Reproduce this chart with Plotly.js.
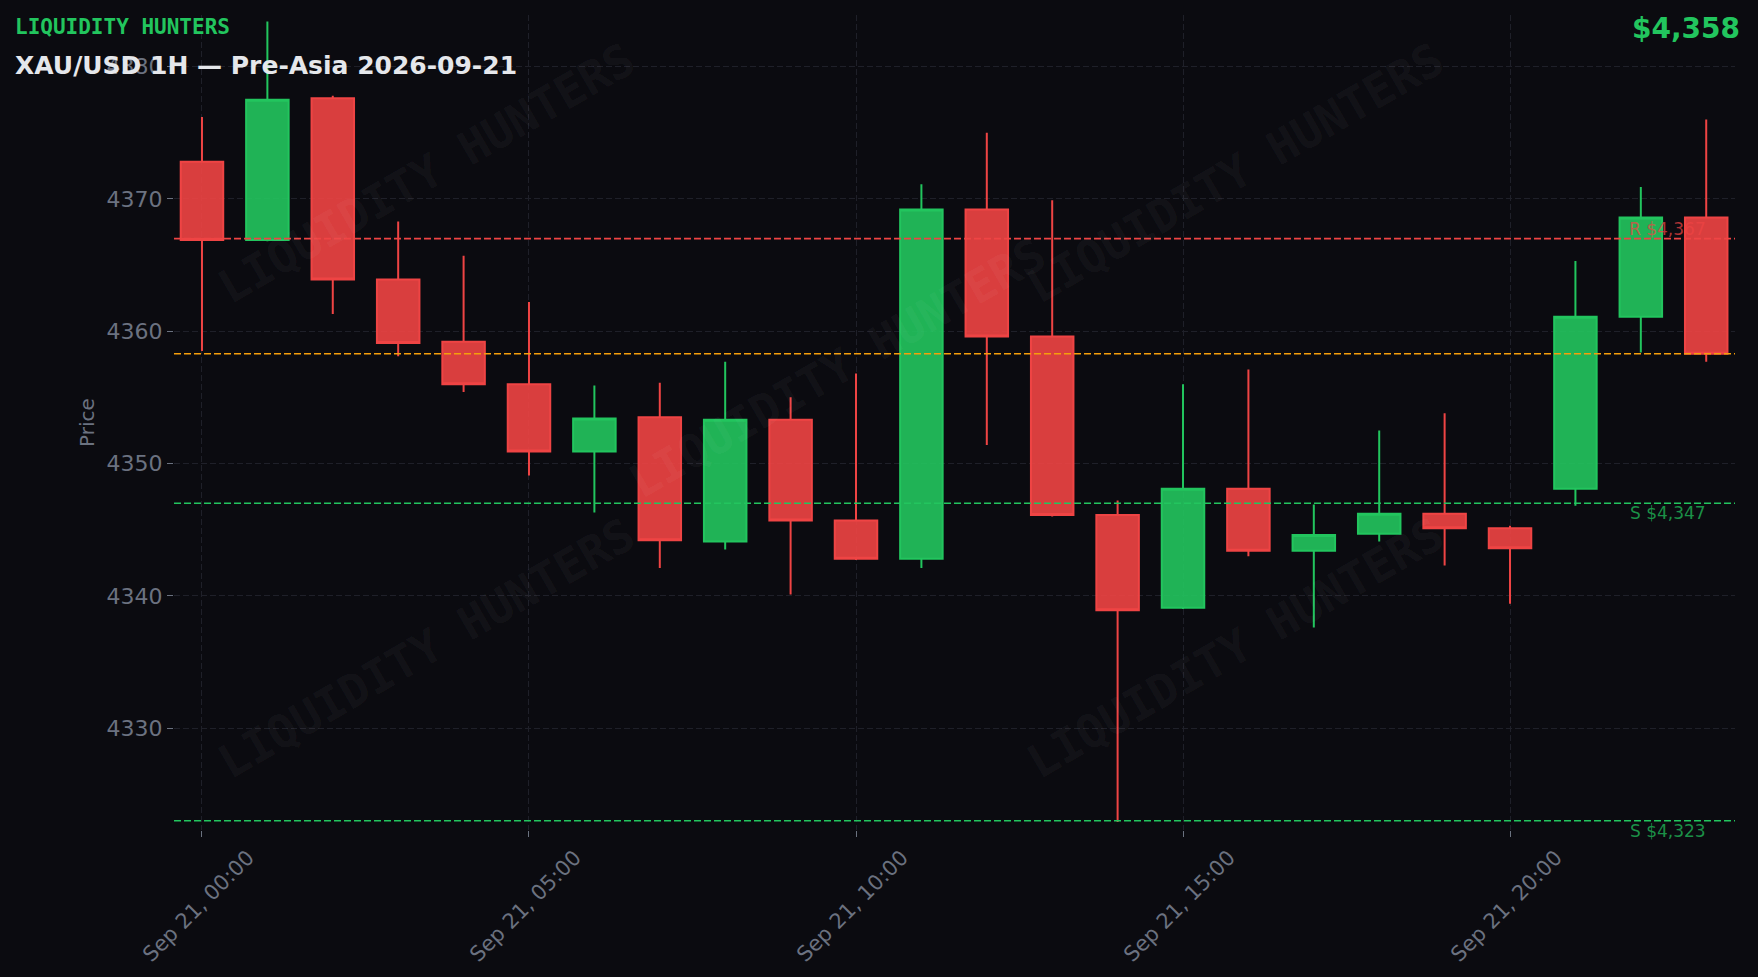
<!DOCTYPE html>
<html><head><meta charset="utf-8">
<script src="https://cdn.plot.ly/plotly-3.0.1.min.js"></script>
<style>html,body{margin:0;padding:0;background:#0b0b10;}#chart{width:1758px;height:977px;}</style>
</head><body><div id="chart"></div>
<script>
const times = ['2026-09-21 00:00','2026-09-21 01:00','2026-09-21 02:00','2026-09-21 03:00','2026-09-21 04:00','2026-09-21 05:00',
  '2026-09-21 06:00','2026-09-21 07:00','2026-09-21 08:00','2026-09-21 09:00','2026-09-21 10:00','2026-09-21 11:00',
  '2026-09-21 12:00','2026-09-21 13:00','2026-09-21 14:00','2026-09-21 15:00','2026-09-21 16:00','2026-09-21 17:00',
  '2026-09-21 18:00','2026-09-21 19:00','2026-09-21 20:00','2026-09-21 21:00','2026-09-21 22:00','2026-09-21 23:00'];
const openP  = [4372.8,4366.9,4377.6,4363.9,4359.2,4356.0,4350.9,4353.5,4344.1,4353.3,4345.7,4342.8,4369.2,4359.6,4346.1,4339.1,4348.1,4343.4,4344.7,4346.2,4345.1,4348.1,4361.1,4368.6];
const highP  = [4376.2,4383.4,4377.8,4368.3,4365.7,4362.2,4355.9,4356.1,4357.7,4355.0,4356.8,4371.1,4375.0,4369.9,4347.2,4356.0,4357.1,4346.9,4352.5,4353.8,4345.3,4365.3,4370.9,4376.0];
const lowP   = [4358.5,4366.8,4361.3,4358.1,4355.4,4349.1,4346.3,4342.1,4343.5,4340.1,4342.7,4342.1,4351.4,4346.0,4322.9,4339.0,4343.0,4337.6,4344.1,4342.3,4339.4,4346.8,4358.4,4357.7];
const closeP = [4366.9,4377.5,4363.9,4359.1,4356.0,4350.9,4353.4,4344.2,4353.3,4345.7,4342.8,4369.2,4359.6,4346.1,4338.9,4348.1,4343.4,4344.6,4346.2,4345.1,4343.6,4361.1,4368.6,4358.3];

const levelValues = [4367, 4358.3, 4347, 4323];
const levelLabels = ['R $4,367', '', 'S $4,347', 'S $4,323'];
const levelKinds  = ['R', 'P', 'S', 'S'];

const brandText = 'LIQUIDITY HUNTERS';
const chartTitle = 'XAU/USD 1H — Pre-Asia 2026-09-21';
const priceText = '$4,358';

const GREEN = '#22c55e', RED = '#ef4444', ORANGE = '#f59e0b';
const kindColor = {R: RED, P: ORANGE, S: GREEN};
const kindLabelColor = {R: 'rgba(239,68,68,0.72)', P: 'rgba(245,158,11,0.72)', S: 'rgba(34,197,94,0.72)'};

const trace = {
  type: 'candlestick', x: times, open: openP, high: highP, low: lowP, close: closeP,
  increasing: {line: {color: GREEN, width: 2}, fillcolor: 'rgba(34,197,94,0.9)'},
  decreasing: {line: {color: RED, width: 2}, fillcolor: 'rgba(239,68,68,0.9)'},
  whiskerwidth: 0, showlegend: false, hoverinfo: 'skip'
};

const shapes = levelValues.map((v, i) => ({
  type: 'line', xref: 'paper', x0: 0, x1: 1, yref: 'y', y0: v, y1: v,
  line: {color: kindColor[levelKinds[i]], width: 1.6, dash: '7px,3px'}, layer: 'above'
}));

const annotations = [];
levelValues.forEach((v, i) => {
  if (!levelLabels[i]) return;
  annotations.push({xref: 'paper', yref: 'y', x: 0.983, y: v, xanchor: 'right',
    yanchor: levelKinds[i] === 'R' ? 'bottom' : 'top', yshift: levelKinds[i] === 'R' ? -2 : 2,
    text: levelLabels[i], showarrow: false,
    font: {family: 'DejaVu Sans', size: 17, color: kindLabelColor[levelKinds[i]]}});
});
const wmPos = [[0.162, 0.806], [0.680, 0.806], [0.425, 0.567], [0.162, 0.223], [0.680, 0.223]];
wmPos.forEach(p => annotations.push({xref: 'paper', yref: 'paper', x: p[0], y: p[1], xanchor: 'center', yanchor: 'middle',
  text: '<b>' + brandText + '</b>', showarrow: false, textangle: -30,
  font: {family: 'DejaVu Sans Mono', size: 46, color: 'rgba(255,255,255,0.05)'}}));
annotations.push({xref: 'paper', yref: 'paper', x: -0.1032, y: 0.985, xanchor: 'left', yanchor: 'middle',
  text: '<b>' + brandText + '</b>', showarrow: false, font: {family: 'DejaVu Sans Mono', size: 21, color: GREEN}});
annotations.push({xref: 'paper', yref: 'paper', x: 1.0045, y: 0.984, xanchor: 'right', yanchor: 'middle',
  text: '<b>' + priceText + '</b>', showarrow: false, font: {family: 'DejaVu Sans', size: 28, color: GREEN}});

const layout = {
  width: 1758, height: 977,
  paper_bgcolor: '#0b0b10', plot_bgcolor: '#0b0b10',
  margin: {l: 174, r: 23, t: 15, b: 147},
  font: {family: 'DejaVu Sans', color: '#6b7280'},
  title: {text: '<b>' + chartTitle + '</b>', x: 15/1758, xanchor: 'left', xref: 'container',
    y: 1 - 65/977, yanchor: 'middle', yref: 'container',
    font: {family: 'DejaVu Sans', size: 25, color: '#e5e7eb'}},
  boxgap: 0.35, boxgroupgap: 0,
  xaxis: {type: 'date', range: ['2026-09-20 23:34:20', '2026-09-21 23:26:24'],
    rangeslider: {visible: false}, tick0: '2026-09-21 00:00', dtick: 5*3600000,
    tickformat: '%b %d, %H:%M', tickangle: -45, ticks: 'outside', ticklen: 6, tickcolor: '#6b7280',
    ticklabelshift: 46,
    tickfont: {size: 21, color: '#6b7280'}, showgrid: true, gridcolor: '#1f2029', griddash: '6px,3px', gridwidth: 1,
    zeroline: false, showline: false},
  yaxis: {range: [4322.3, 4383.9], dtick: 10, tick0: 4330, ticks: 'outside', ticklen: 6, tickcolor: '#6b7280',
    tickfont: {size: 22, color: '#6b7280'}, showgrid: true, gridcolor: '#1f2029', griddash: '6px,3px', gridwidth: 1,
    zeroline: false, showline: false,
    title: {text: 'Price', font: {size: 20, color: '#6b7280'}, standoff: 6}},
  shapes: shapes, annotations: annotations, showlegend: false
};
Plotly.newPlot('chart', [trace], layout, {displayModeBar: false, staticPlot: true});
</script></body></html>
